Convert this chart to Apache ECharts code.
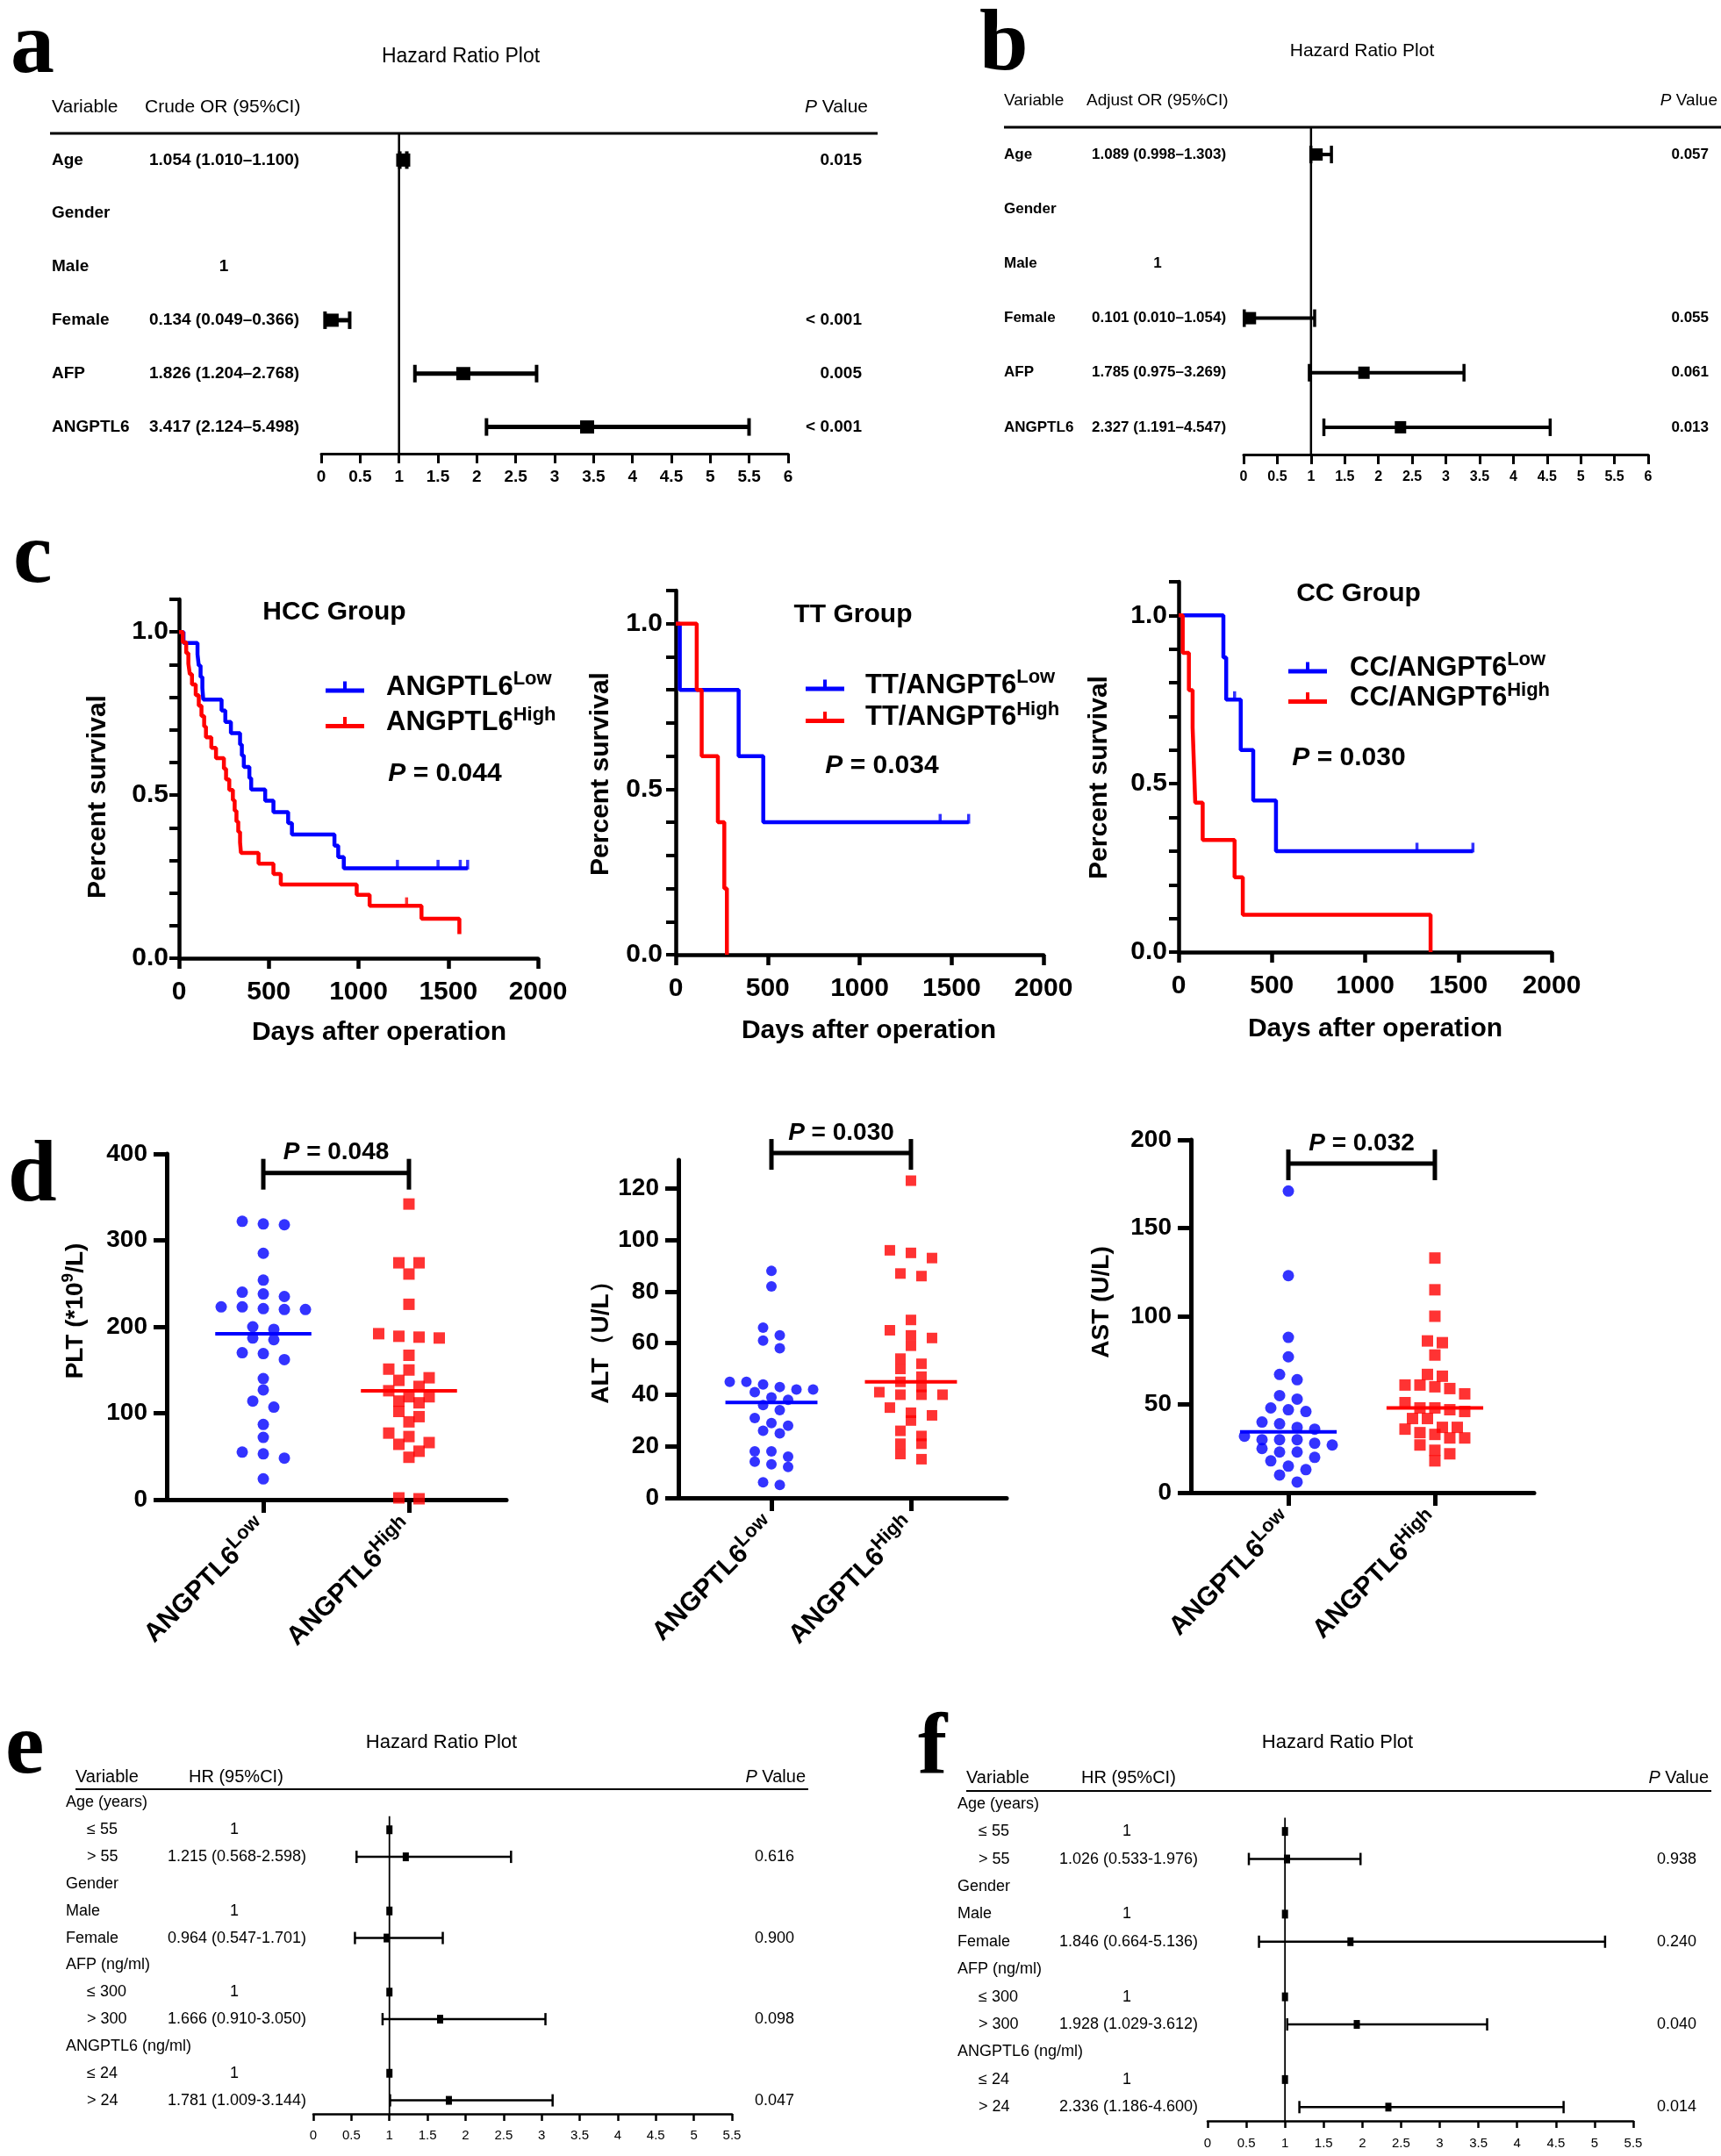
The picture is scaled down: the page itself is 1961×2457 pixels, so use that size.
<!DOCTYPE html>
<html><head><meta charset="utf-8">
<script src="https://cdn.jsdelivr.net/npm/echarts@6/dist/echarts.min.js"></script>
<style>html,body{margin:0;padding:0;background:#fff}#c{width:1961px;height:2457px}</style>
</head><body><div id="c"></div>
<script>
// ================= DATA =================
// Panel a / b : logistic regression forest plots
const abRows = ['Age','Gender','Male','Female','AFP','ANGPTL6'];
const aText = ['1.054 (1.010–1.100)','','1','0.134 (0.049–0.366)','1.826 (1.204–2.768)','3.417 (2.124–5.498)'];
const aEst  = [1.054,null,null,0.134,1.826,3.417];
const aLow  = [1.010,null,null,0.049,1.204,2.124];
const aHigh = [1.100,null,null,0.366,2.768,5.498];
const aP    = ['0.015','','','< 0.001','0.005','< 0.001'];
const bText = ['1.089 (0.998–1.303)','','1','0.101 (0.010–1.054)','1.785 (0.975–3.269)','2.327 (1.191–4.547)'];
const bEst  = [1.089,null,null,0.101,1.785,2.327];
const bLow  = [0.998,null,null,0.010,0.975,1.191];
const bHigh = [1.303,null,null,1.054,3.269,4.547];
const bP    = ['0.057','','','0.055','0.061','0.013'];
// Panel e / f : Cox regression forest plots
const efRows = ['Age (years)','≤ 55','> 55','Gender','Male','Female','AFP (ng/ml)','≤ 300','> 300','ANGPTL6 (ng/ml)','≤ 24','> 24'];
const eText = ['','1','1.215 (0.568-2.598)','','1','0.964 (0.547-1.701)','','1','1.666 (0.910-3.050)','','1','1.781 (1.009-3.144)'];
const eEst  = [null,1,1.215,null,1,0.964,null,1,1.666,null,1,1.781];
const eLow  = [null,null,0.568,null,null,0.547,null,null,0.910,null,null,1.009];
const eHigh = [null,null,2.598,null,null,1.701,null,null,3.050,null,null,3.144];
const eP    = ['','','0.616','','','0.900','','','0.098','','','0.047'];
const fText = ['','1','1.026 (0.533-1.976)','','1','1.846 (0.664-5.136)','','1','1.928 (1.029-3.612)','','1','2.336 (1.186-4.600)'];
const fEst  = [null,1,1.026,null,1,1.846,null,1,1.928,null,1,2.336];
const fLow  = [null,null,0.533,null,null,0.664,null,null,1.029,null,null,1.186];
const fHigh = [null,null,1.976,null,null,5.136,null,null,3.612,null,null,4.600];
const fP    = ['','','0.938','','','0.240','','','0.040','','','0.014'];

// Panel c : Kaplan-Meier (days, survival after event)
const hccLowT  = [0,25,103,110,120,130,135,237,258,289,340,350,361,392,402,480,526,608,629,866,887,918,1608];
const hccLowS  = [1,0.966,0.931,0.897,0.862,0.828,0.793,0.759,0.724,0.690,0.655,0.621,0.586,0.552,0.517,0.483,0.448,0.414,0.379,0.345,0.310,0.276,0.276];
const hccLowC  = [1217,1443,1567,1608];
const hccHighT = [0,21,40,52,60,72,93,110,125,140,150,180,206,250,262,280,300,310,320,330,340,345,443,526,567,990,1062,1351,1562];
const hccHighS = [1,0.968,0.935,0.903,0.871,0.839,0.806,0.774,0.742,0.710,0.677,0.645,0.613,0.581,0.548,0.516,0.484,0.452,0.419,0.387,0.355,0.323,0.290,0.258,0.226,0.194,0.161,0.121,0.074];
const hccHighC = [1268];
const ttLowT   = [0,22,342,476,1593];
const ttLowS   = [1,0.8,0.6,0.4,0.4];
const ttLowC   = [1438,1593];
const ttHighT  = [0,114,141,229,264,278];
const ttHighS  = [1,0.8,0.6,0.4,0.2,0];
const ccLowT   = [0,240,255,333,400,522,1578];
const ccLowS   = [1,0.875,0.75,0.6,0.45,0.3,0.3];
const ccLowC   = [300,1278,1578];
const ccHighT  = [0,22,55,75,82,89,129,300,344,1351];
const ccHighS  = [1,0.889,0.778,0.667,0.556,0.444,0.333,0.222,0.111,0];
const kmXTicks = [0,500,1000,1500,2000];
const kmYTicks = [0,0.1,0.2,0.3,0.4,0.5,0.6,0.7,0.8,0.9,1.0,1.1];
const kmYLabels = [0,0.5,1.0];

// Panel d : dot plots
const dotCats = ['ANGPTL6^Low','ANGPTL6^High'];
const pltLow  = [322,319,318,285,254,240,238,235,223,223,221,220,220,200,197,187,185,170,169,162,140,127,114,107,87,72,55,53,48,24];
const pltHigh = [342,274,274,261,226,192,189,188,187,167,151,150,141,138,131,126,119,119,114,112,102,96,90,77,73,66,64,56,49,2,1];
const pltMed  = [192,126];
const altLow  = [88,82,66,63,61,58,45,45,44,43,42,42,41,39,38,36,34,31,29,28,26,25,18,18,16,14,13,12,6,5];
const altHigh = [123,96,95,93,87,86,69,65,63,62,59,54,52,50,47,45,43,41,40,40,40,35,33,32,30,26,24,21,21,17,15];
const altMed  = [37,45];
const astLow  = [171,123,88,77,67,64,55,53,48,47,46,40,39,37,36,32,30,30,30,28,27,25,23,23,20,18,15,13,10,6];
const astHigh = [133,115,100,86,85,78,67,66,61,61,60,59,56,51,48,48,47,46,42,42,37,37,36,34,33,31,31,27,24,22,18];
const astMed  = [34.4,48];
const pltTicks = [0,100,200,300,400];
const altTicks = [0,20,40,60,80,100,120];
const astTicks = [0,50,100,150,200];

// ================= STYLE =================
const SANS = '"Liberation Sans", Arial, Helvetica, sans-serif';
const SERIF = '"Liberation Serif", "Times New Roman", serif';
const BLUE = '#0000ff', RED = '#ff0000', BLK = '#000';

const grids = [], xAxes = [], yAxes = [], series = [], G = [], legends = [];

function txt(x, y, text, o) {
  o = o || {};
  const st = {text: text, fill: BLK, fontFamily: o.ff || SANS, fontSize: o.fs || 20,
    fontWeight: o.fw || 'normal', fontStyle: o.fst || 'normal', align: o.al || 'left', verticalAlign: 'middle'};
  if (o.rich) st.rich = o.rich;
  G.push({type: 'text', x: x, y: y, rotation: o.rot || 0, z: 100, silent: true, style: st});
}
function hline(x1, x2, y, w) {
  G.push({type: 'line', z: 100, silent: true, shape: {x1: x1, y1: y, x2: x2, y2: y}, style: {stroke: BLK, lineWidth: w}});
}
function pRich(fs, fw) {
  return {i: {fontStyle: 'italic', fontWeight: fw, fontSize: fs, fontFamily: SANS, fill: BLK},
          n: {fontWeight: fw, fontSize: fs, fontFamily: SANS, fill: BLK}};
}

// ================= FOREST =================
function forest(c) {
  const gi = grids.length, n = c.rows.length;
  grids.push({left: c.x0, top: c.top, width: c.x1 - c.x0, height: c.bottom - c.top, outerBoundsMode: 'none'});
  xAxes.push({gridIndex: gi, type: 'value', min: 0, max: c.xmax, interval: 0.5,
    axisLine: {show: true, onZero: false, lineStyle: {color: BLK, width: c.axisW}},
    axisTick: {show: true, length: c.tickLen, lineStyle: {color: BLK, width: c.axisW}},
    axisLabel: {color: BLK, fontFamily: SANS, fontSize: c.tickFont, fontWeight: c.tickWeight, margin: c.labelMargin},
    splitLine: {show: false}});
  yAxes.push({gridIndex: gi, type: 'value', min: -0.5, max: n - 0.5, inverse: true, show: false});
  series.push({type: 'line', xAxisIndex: gi, yAxisIndex: gi, data: [[1, c.refFrom], [1, n - 0.5]], symbol: 'none',
    silent: true, lineStyle: {color: BLK, width: c.refW}, z: 2, animation: false});
  const items = [];
  c.est.forEach((e, i) => { if (e !== null) items.push(i); });
  series.push({type: 'custom', xAxisIndex: gi, yAxisIndex: gi, clip: false, silent: true, z: 4,
    data: items.map(i => [c.est[i], i]),
    renderItem: (p, api) => {
      const i = items[p.dataIndex];
      const pt = api.coord([c.est[i], i]);
      const ch = [];
      if (c.low[i] !== null) {
        const a = api.coord([c.low[i], i]), b = api.coord([c.high[i], i]);
        ch.push({type: 'line', shape: {x1: a[0], y1: a[1], x2: b[0], y2: b[1]}, style: {stroke: BLK, lineWidth: c.barW}});
        ch.push({type: 'line', shape: {x1: a[0], y1: a[1] - c.capH, x2: a[0], y2: a[1] + c.capH}, style: {stroke: BLK, lineWidth: c.capW}});
        ch.push({type: 'line', shape: {x1: b[0], y1: b[1] - c.capH, x2: b[0], y2: b[1] + c.capH}, style: {stroke: BLK, lineWidth: c.capW}});
      }
      ch.push({type: 'rect', shape: {x: pt[0] - c.boxW / 2, y: pt[1] - c.boxH / 2, width: c.boxW, height: c.boxH}, style: {fill: BLK}});
      return {type: 'group', children: ch};
    }});
  series.push({type: 'custom', xAxisIndex: gi, yAxisIndex: gi, clip: false, silent: true, z: 4,
    data: c.rows.map((r, i) => [0, i]),
    renderItem: (p, api) => {
      const i = p.dataIndex;
      const y = api.coord([0, i])[1];
      const mk = (t, x, al) => ({type: 'text', x: x, y: y, style: {text: t, fill: BLK, fontFamily: SANS,
        fontSize: c.rowFont, fontWeight: c.rowWeight, align: al, verticalAlign: 'middle'}});
      const lab = c.rows[i];
      const ind = (lab.charAt(0) === '≤' || lab.charAt(0) === '>') ? c.indentX : c.varX;
      const ch = [mk(lab, ind, 'left')];
      const t = c.text[i];
      if (t === '1') ch.push(mk(t, c.oneX, 'center'));
      else if (t) ch.push(mk(t, c.estX, 'left'));
      if (c.p[i]) ch.push(mk(c.p[i], c.pX, 'right'));
      return {type: 'group', children: ch};
    }});
  txt(c.titleX, c.titleY, 'Hazard Ratio Plot', {fs: c.titleFont, al: 'center'});
  c.hdr.forEach(h => txt(h[1], c.hdrY, h[0], {fs: c.hdrFont}));
  txt(c.pHdrX, c.hdrY, '{i|P}{n| Value}', {al: 'right', fs: c.hdrFont,
    rich: {i: {fontStyle: 'italic', fontSize: c.hdrFont, fontFamily: SANS, fill: BLK}, n: {fontSize: c.hdrFont, fontFamily: SANS, fill: BLK}}});
  hline(c.lineX0, c.lineX1, c.lineY, c.lineW);
}

forest({rows: abRows, text: aText, est: aEst, low: aLow, high: aHigh, p: aP, xmax: 6,
  x0: 366, x1: 898, top: 152, bottom: 517, refFrom: -0.5,
  axisW: 3, tickLen: 11, tickFont: 19, tickWeight: 'bold', labelMargin: 17, refW: 2.5,
  barW: 5, capH: 10, capW: 4, boxW: 16, boxH: 15,
  varX: 59, indentX: 59, estX: 170, oneX: 255, pX: 982, rowFont: 19, rowWeight: 'bold',
  titleX: 525, titleY: 65, titleFont: 23, hdrY: 122, hdrFont: 21,
  hdr: [['Variable', 59], ['Crude OR (95%CI)', 165]], pHdrX: 989, lineY: 152, lineX0: 57, lineX1: 1000, lineW: 3});

forest({rows: abRows, text: bText, est: bEst, low: bLow, high: bHigh, p: bP, xmax: 6,
  x0: 1417, x1: 1878, top: 145, bottom: 518, refFrom: -0.5,
  axisW: 3, tickLen: 11, tickFont: 16, tickWeight: 'bold', labelMargin: 18, refW: 2.5,
  barW: 4, capH: 10, capW: 3.5, boxW: 13, boxH: 14,
  varX: 1144, indentX: 1144, estX: 1244, oneX: 1319, pX: 1947, rowFont: 17, rowWeight: 'bold',
  titleX: 1552, titleY: 58, titleFont: 21, hdrY: 115, hdrFont: 19,
  hdr: [['Variable', 1144], ['Adjust OR (95%CI)', 1238]], pHdrX: 1957, lineY: 145, lineX0: 1144, lineX1: 1961, lineW: 3});

forest({rows: efRows, text: eText, est: eEst, low: eLow, high: eHigh, p: eP, xmax: 5.5,
  x0: 357, x1: 834, top: 2039, bottom: 2409, refFrom: 0.5,
  axisW: 2.5, tickLen: 8, tickFont: 15, tickWeight: 'normal', labelMargin: 17, refW: 1.8,
  barW: 2.5, capH: 7, capW: 2.5, boxW: 7, boxH: 10,
  varX: 75, indentX: 99, estX: 191, oneX: 267, pX: 905, rowFont: 18, rowWeight: 'normal',
  titleX: 503, titleY: 1986, titleFont: 22, hdrY: 2025, hdrFont: 20,
  hdr: [['Variable', 86], ['HR (95%CI)', 215]], pHdrX: 918, lineY: 2039, lineX0: 86, lineX1: 921, lineW: 2});

forest({rows: efRows, text: fText, est: fEst, low: fLow, high: fHigh, p: fP, xmax: 5.5,
  x0: 1376, x1: 1861, top: 2040, bottom: 2417, refFrom: 0.5,
  axisW: 2.5, tickLen: 8, tickFont: 15, tickWeight: 'normal', labelMargin: 18, refW: 1.8,
  barW: 2.5, capH: 7, capW: 2.5, boxW: 7, boxH: 10,
  varX: 1091, indentX: 1115, estX: 1207, oneX: 1284, pX: 1933, rowFont: 18, rowWeight: 'normal',
  titleX: 1524, titleY: 1986, titleFont: 22, hdrY: 2026, hdrFont: 20,
  hdr: [['Variable', 1101], ['HR (95%CI)', 1232]], pHdrX: 1947, lineY: 2041, lineX0: 1101, lineX1: 1950, lineW: 2});

// ================= KAPLAN-MEIER =================
function survAt(T, S, t) { let s = S[0]; for (let i = 0; i < T.length; i++) if (T[i] <= t) s = S[i]; return s; }
const legIcon = 'path://M0 8H44V13H0Z M20 0H24V8H20Z';
function km(c) {
  const gi = grids.length;
  grids.push({left: c.left, top: c.top, width: c.width, height: c.height, outerBoundsMode: 'none'});
  xAxes.push({gridIndex: gi, type: 'value', min: 0, max: 2000,
    axisLine: {show: true, lineStyle: {color: BLK, width: 4.5}},
    axisTick: {show: true, length: 12, customValues: kmXTicks, lineStyle: {color: BLK, width: 4.5}},
    axisLabel: {customValues: kmXTicks, formatter: v => String(v), color: BLK, fontFamily: SANS, fontSize: 30, fontWeight: 'bold', margin: 24},
    splitLine: {show: false}});
  yAxes.push({gridIndex: gi, type: 'value', min: 0, max: 1.1,
    axisLine: {show: true, onZero: false, lineStyle: {color: BLK, width: 4.5}},
    axisTick: {show: true, length: 11, customValues: kmYTicks, lineStyle: {color: BLK, width: 4}},
    axisLabel: {customValues: kmYLabels, formatter: v => v.toFixed(1), color: BLK, fontFamily: SANS, fontSize: 30, fontWeight: 'bold', margin: c.ylm},
    splitLine: {show: false}});
  c.groups.forEach(g => {
    series.push({type: 'line', name: g.name, xAxisIndex: gi, yAxisIndex: gi, step: 'end', symbol: 'none', showSymbol: false,
      color: g.color, itemStyle: {color: g.color}, lineStyle: {color: g.color, width: 4.5}, z: g.z,
      data: g.T.map((t, i) => [t, g.S[i]])});
    if (g.C && g.C.length) series.push({type: 'scatter', name: g.name + ' censored', xAxisIndex: gi, yAxisIndex: gi,
      symbol: 'rect', symbolSize: [3.5, 11], symbolOffset: [0, -4], itemStyle: {color: g.color}, z: g.z,
      data: g.C.map(t => [t, survAt(g.T, g.S, t)])});
  });
  legends.push({orient: 'vertical', left: c.legLeft, top: c.legTop, itemWidth: 44, itemHeight: 13, itemGap: c.legGap,
    icon: legIcon, selectedMode: false, data: c.groups.map(g => g.name),
    formatter: name => { const p = name.split('^'); return '{g| }{m|' + p[0] + '}{s|' + p[1] + '}'; },
    textStyle: {color: BLK, rich: {
      g: {width: c.legPad, fontSize: 10},
      m: {fontSize: 31, fontFamily: SANS, fontWeight: 'bold', lineHeight: 40, color: BLK},
      s: {fontSize: 22, fontFamily: SANS, fontWeight: 'bold', lineHeight: 22, verticalAlign: 'top', color: BLK}}}});
  txt(c.titleX, c.titleY, c.title, {fs: 30, fw: 'bold', al: 'center'});
  txt(c.pXc, c.pYc, '{i|P}{n| = ' + c.pv + '}', {al: 'center', rich: pRich(30, 'bold')});
  txt(c.xtX, c.xtY, 'Days after operation', {fs: 30, fw: 'bold', al: 'center'});
  txt(c.ytX, c.ytY, 'Percent survival', {fs: 30, fw: 'bold', al: 'center', rot: Math.PI / 2});
}

km({left: 204, top: 683, width: 409, height: 409, ylm: 12,
  groups: [{name: 'ANGPTL6^Low', color: BLUE, T: hccLowT, S: hccLowS, C: hccLowC, z: 3},
           {name: 'ANGPTL6^High', color: RED, T: hccHighT, S: hccHighS, C: hccHighC, z: 4}],
  legLeft: 366, legTop: 758, legGap: 5, legPad: 20,
  title: 'HCC Group', titleX: 381, titleY: 698, pXc: 507, pYc: 882, pv: '0.044',
  xtX: 432, xtY: 1177, ytX: 112, ytY: 908});
km({left: 770, top: 673, width: 419, height: 415, ylm: 15,
  groups: [{name: 'TT/ANGPT6^Low', color: BLUE, T: ttLowT, S: ttLowS, C: ttLowC, z: 3},
           {name: 'TT/ANGPT6^High', color: RED, T: ttHighT, S: ttHighS, C: [], z: 4}],
  legLeft: 913, legTop: 756, legGap: 1, legPad: 19,
  title: 'TT Group', titleX: 972, titleY: 701, pXc: 1005, pYc: 873, pv: '0.034',
  xtX: 990, xtY: 1175, ytX: 685, ytY: 882});
km({left: 1343, top: 663, width: 425, height: 422, ylm: 13,
  groups: [{name: 'CC/ANGPT6^Low', color: BLUE, T: ccLowT, S: ccLowS, C: ccLowC, z: 3},
           {name: 'CC/ANGPT6^High', color: RED, T: ccHighT, S: ccHighS, C: [], z: 4}],
  legLeft: 1463, legTop: 736, legGap: -1, legPad: 21,
  title: 'CC Group', titleX: 1548, titleY: 677, pXc: 1537, pYc: 864, pv: '0.030',
  xtX: 1567, xtY: 1173, ytX: 1253, ytY: 886});

// ================= DOT PLOTS =================
function swarm(vals, pxPerUnitY, thrPx, slotUnits) {
  const idx = vals.map((v, i) => i).sort((a, b) => vals[b] - vals[a]);
  const off = new Array(vals.length).fill(0);
  let grp = [];
  const flush = () => { const k = grp.length; grp.forEach((id, j) => { off[id] = (j - (k - 1) / 2) * slotUnits; }); grp = []; };
  idx.forEach(id => {
    if (grp.length && (vals[grp[0]] - vals[id]) * pxPerUnitY > thrPx) flush();
    grp.push(id);
  });
  flush();
  return off;
}
function dots(c) {
  const gi = grids.length;
  grids.push({left: c.left, top: c.top, width: c.width, height: c.height, outerBoundsMode: 'none'});
  const pxX = c.width / (c.xmax - c.xmin), pxY = c.height / c.ymax;
  xAxes.push({gridIndex: gi, type: 'value', min: c.xmin, max: c.xmax,
    axisLine: {show: true, lineStyle: {color: BLK, width: 5}},
    axisTick: {show: true, length: 15, customValues: [1, 2], lineStyle: {color: BLK, width: 5}},
    axisLabel: {customValues: [1, 2], rotate: 45, margin: 28, color: BLK,
      formatter: v => { const p = dotCats[v - 1].split('^'); return '{m|' + p[0] + '}{s|' + p[1] + '}'; },
      rich: {m: {fontSize: 30, fontWeight: 'bold', fontFamily: SANS, lineHeight: 40, color: BLK},
             s: {fontSize: 22, fontWeight: 'bold', fontFamily: SANS, lineHeight: 22, verticalAlign: 'top', color: BLK}}},
    splitLine: {show: false}});
  yAxes.push({gridIndex: gi, type: 'value', min: 0, max: c.ymax,
    axisLine: {show: true, onZero: false, lineStyle: {color: BLK, width: 5}},
    axisTick: {show: true, length: 15, customValues: c.ticks, lineStyle: {color: BLK, width: 5}},
    axisLabel: {customValues: c.ticks, color: BLK, fontFamily: SANS, fontSize: 28, fontWeight: 'bold', margin: 22},
    splitLine: {show: false}});
  const oL = swarm(c.low, pxY, c.msL * 0.9, c.slotL / pxX);
  const oH = swarm(c.high, pxY, c.msH * 0.9, c.slotH / pxX);
  series.push({type: 'scatter', xAxisIndex: gi, yAxisIndex: gi, symbol: 'circle', symbolSize: c.msL, itemStyle: {color: BLUE}, z: 3,
    data: c.low.map((v, i) => [1 + oL[i], v])});
  series.push({type: 'scatter', xAxisIndex: gi, yAxisIndex: gi, symbol: 'rect', symbolSize: c.msH, itemStyle: {color: RED}, z: 3,
    data: c.high.map((v, i) => [2 + oH[i], v])});
  [[1, BLUE], [2, RED]].forEach(([k, col]) => {
    series.push({type: 'line', xAxisIndex: gi, yAxisIndex: gi, symbol: 'none', lineStyle: {color: col, width: 4}, z: 4,
      data: [[k - 0.33, c.med[k - 1]], [k + 0.33, c.med[k - 1]]]});
  });
  series.push({type: 'custom', xAxisIndex: gi, yAxisIndex: gi, clip: false, silent: true, z: 5,
    data: [[1, c.bracket]],
    renderItem: (p, api) => {
      const a = api.coord([1, c.bracket]), b = api.coord([2, c.bracket]);
      const ln = (x1, y1, x2, y2) => ({type: 'line', shape: {x1, y1, x2, y2}, style: {stroke: BLK, lineWidth: 5}});
      return {type: 'group', children: [
        ln(a[0], a[1], b[0], b[1]), ln(a[0], a[1] - 16, a[0], a[1] + 19), ln(b[0], b[1] - 16, b[0], b[1] + 19),
        {type: 'text', x: (a[0] + b[0]) / 2, y: a[1] - 23, style: {text: '{i|P}{n| = ' + c.pv + '}', rich: pRich(28, 'bold'),
          align: 'center', verticalAlign: 'middle'}}]};
    }});
  txt(c.ytX, c.ytY, c.ytitle, {al: 'center', rot: Math.PI / 2,
    rich: {m: {fontSize: 28, fontWeight: 'bold', fontFamily: SANS, lineHeight: 36, fill: BLK},
           s: {fontSize: 19, fontWeight: 'bold', fontFamily: SANS, lineHeight: 19, verticalAlign: 'top', fill: BLK}}});
}
dots({left: 190, top: 1315, width: 387, height: 394, xmin: 0.337, xmax: 2.669, ymax: 400, ticks: pltTicks,
  low: pltLow, high: pltHigh, med: pltMed, msL: 13, msH: 13, slotL: 24, slotH: 23, bracket: 378, pv: '0.048',
  ytX: 86, ytY: 1494, ytitle: '{m|PLT (*10}{s|9}{m|/L)}'});
dots({left: 773, top: 1322, width: 374, height: 385, xmin: 0.333, xmax: 2.686, ymax: 131, ticks: altTicks,
  low: altLow, high: altHigh, med: altMed, msL: 12, msH: 12, slotL: 19, slotH: 24, bracket: 133.7, pv: '0.030',
  ytX: 685, ytY: 1523, ytitle: '{m|ALT（U/L）}'});
dots({left: 1357, top: 1299, width: 391, height: 402, xmin: 0.335, xmax: 2.677, ymax: 200, ticks: astTicks,
  low: astLow, high: astHigh, med: astMed, msL: 13, msH: 13, slotL: 20, slotH: 17, bracket: 186.6, pv: '0.032',
  ytX: 1255, ytY: 1484, ytitle: '{m|AST (U/L)}'});

// ================= PANEL LETTERS =================
[['a', 12, 56], ['b', 1116, 53], ['c', 15, 637], ['d', 9, 1342], ['e', 6, 1994], ['f', 1046, 1995]].forEach(l =>
  txt(l[1], l[2], l[0], {ff: SERIF, fs: 100, fw: 'bold'}));

const chart = echarts.init(document.getElementById('c'), null, {renderer: 'canvas', width: 1961, height: 2457});
chart.setOption({
  animation: false,
  backgroundColor: '#fff',
  grid: grids, xAxis: xAxes, yAxis: yAxes, series: series, legend: legends,
  graphic: {elements: G}
});
</script></body></html>
